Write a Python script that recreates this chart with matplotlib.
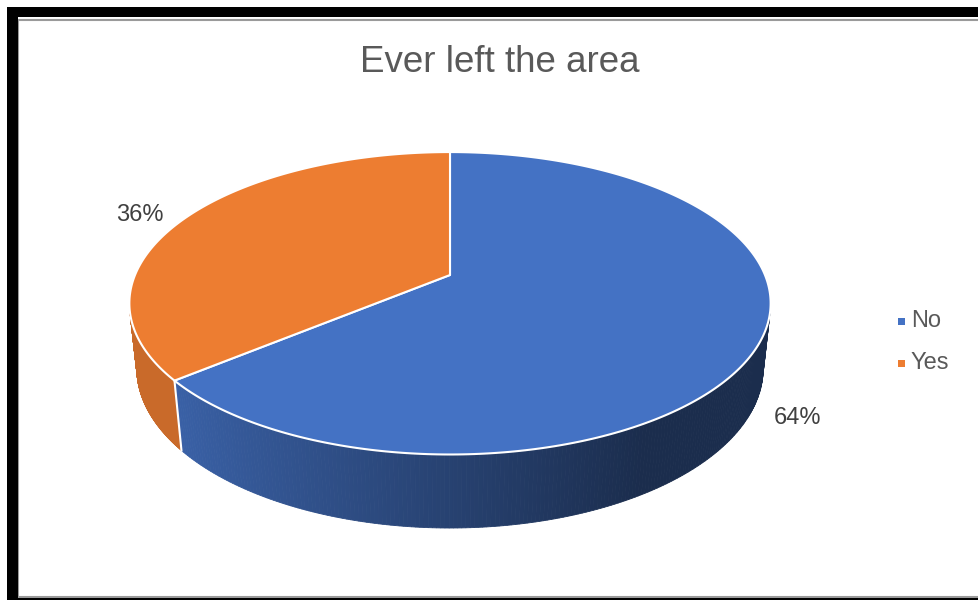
import numpy as np
import matplotlib.pyplot as plt
from matplotlib.patches import Polygon, Rectangle
from matplotlib.lines import Line2D

labels = ['No', 'Yes']
values = [64, 36]
colors = ['#4472C4', '#ED7D31']
title = 'Ever left the area'

plt.rcParams['font.family'] = ['Liberation Sans', 'DejaVu Sans']

W, H = 979, 600
fig = plt.figure(figsize=(W / 100, H / 100), dpi=100)
ax = fig.add_axes([0, 0, 1, 1])
ax.set_xlim(0, W)
ax.set_ylim(H, 0)
ax.axis('off')

# simple perspective camera for the 3d pie (unit radius disc)
cx, cy = 450, 275
phi = np.radians(27.6)
D = 4.74
F = 1493
depth_h = 0.235


def project(X, Y, Z):
    d = Y * np.cos(phi) + D - Z * np.sin(phi)
    sx = cx + X * F / d
    sy = cy - (Y * np.sin(phi) + Z * np.cos(phi)) * F / d
    return sx, sy


def shade(hexcol, X):
    # wall gets darker towards the right, flat dark past the middle
    rgb = np.array(plt.matplotlib.colors.to_rgb(hexcol))
    k = np.clip(0.577 - 0.354 * X, 0.395, 0.85)
    return tuple(np.clip(rgb * k, 0, 1))


# slice angles: start at 12 o'clock, go clockwise
fracs = np.array(values) / np.sum(values)
starts = 90 - 360 * np.concatenate([[0], np.cumsum(fracs)[:-1]])
ends = starts - 360 * fracs

# visible part of the cylinder wall
vis_lim = np.degrees(np.arcsin(-1 / (D * np.cos(phi))))
vis_lo, vis_hi = -180 - vis_lim, vis_lim

# side walls
for s, e, col in zip(starts, ends, colors):
    a0 = max(e, vis_lo)
    a1 = min(s, vis_hi)
    if a1 <= a0:
        continue
    th = np.radians(np.linspace(a0, a1, 200))
    for t0, t1 in zip(th[:-1], th[1:]):
        xs = [np.cos(t0), np.cos(t1), np.cos(t1), np.cos(t0)]
        ys = [np.sin(t0), np.sin(t1), np.sin(t1), np.sin(t0)]
        zs = [0, 0, -depth_h, -depth_h]
        px, py = project(np.array(xs), np.array(ys), np.array(zs))
        c = shade(col, np.cos((t0 + t1) / 2))
        ax.add_patch(Polygon(np.column_stack([px, py]), closed=True,
                             facecolor=c, edgecolor=c, lw=0.6))

# white seam down the wall where the slices meet
for b in ends[:-1]:
    if vis_lo < b < vis_hi:
        t = np.radians(b)
        px, py = project(np.array([np.cos(t)] * 2), np.array([np.sin(t)] * 2),
                         np.array([0, -depth_h]))
        ax.add_line(Line2D(px, py, color='white', lw=1.5))

# top faces
for s, e, col in zip(starts, ends, colors):
    th = np.radians(np.linspace(s, e, 300))
    X = np.concatenate([[0], np.cos(th)])
    Y = np.concatenate([[0], np.sin(th)])
    px, py = project(X, Y, np.zeros_like(X))
    ax.add_patch(Polygon(np.column_stack([px, py]), closed=True,
                         facecolor=col, edgecolor='white', lw=1.5,
                         joinstyle='round'))

# data labels
label_pos = [(798, 418), (140, 215)]
for v, (lx, ly) in zip(values, label_pos):
    ax.text(lx, ly, f'{v}%', fontsize=17, color='#404040',
            ha='center', va='center')

ax.text(500, 62, title, fontsize=26.5, color='#595959',
        ha='center', va='center')

# legend
leg_y = [321, 363]
for lab, col, y in zip(labels, colors, leg_y):
    ax.add_patch(Rectangle((898, y - 3.5), 7, 7, facecolor=col,
                           edgecolor='none'))
    ax.text(911, y, lab, fontsize=17, color='#595959', ha='left',
            va='center')

# frame
ax.add_patch(Rectangle((18.5, 19.5), 975, 577, fill=False,
                       edgecolor='#9A9A9A', lw=1.5))
ax.add_patch(Rectangle((7, 7), 11, 600, facecolor='black', edgecolor='none'))
ax.add_patch(Rectangle((7, 7), 980, 10, facecolor='black', edgecolor='none'))
ax.add_patch(Rectangle((7, 597.5), 980, 5, facecolor='black', edgecolor='none'))

fig.savefig('out.png', dpi=100)
